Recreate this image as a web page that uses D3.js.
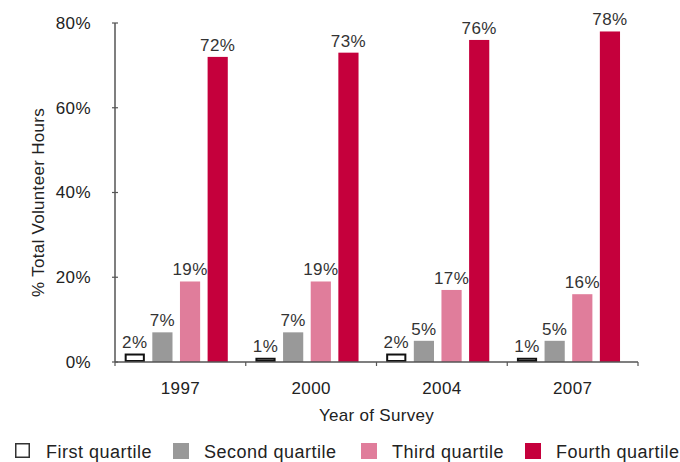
<!DOCTYPE html>
<html lang="en">
<head>
  <meta charset="UTF-8">
  <title>Volunteer Hours by Quartile</title>
  <script src="https://d3js.org/d3.v7.min.js"></script>
  <style>
    body {
      margin: 0;
      padding: 0;
      background: #fff;
      font-family: "Liberation Sans", Arial, sans-serif;
    }
    svg { display: block; }
    .tick text, .label, .legend text, .axis-title {
      font-family: "Liberation Sans", Arial, sans-serif;
      fill: #222;
    }
    .bar-label { font-size: 17px; fill: #333; text-anchor: middle; letter-spacing: 0.4px; }
  </style>
</head>
<body>
  <script>
    // data
    const years = ["1997", "2000", "2004", "2007"];
    const quartiles = ["First quartile", "Second quartile", "Third quartile", "Fourth quartile"];
    const firstQ  = [2, 1, 2, 1];
    const secondQ = [7, 7, 5, 5];
    const thirdQ  = [19, 19, 17, 16];
    const fourthQ = [72, 73, 76, 78];
    const yTicks = [0, 20, 40, 60, 80];

    const fills = ["#ffffff", "#999999", "#e07d9b", "#c5003c"];
    const strokes = ["#111111", "none", "none", "none"];

    const width = 680, height = 462;
    const margin = { top: 23, right: 42, bottom: 100, left: 115 };
    const plotW = width - margin.left - margin.right;
    const plotH = height - margin.top - margin.bottom;

    const series = [firstQ, secondQ, thirdQ, fourthQ];
    const rows = years.map((yr, i) => ({
      year: yr,
      values: quartiles.map((q, j) => ({ key: q, idx: j, value: series[j][i] }))
    }));

    const svg = d3.select("body").append("svg")
      .attr("width", width)
      .attr("height", height);

    const g = svg.append("g")
      .attr("transform", `translate(${margin.left},${margin.top})`);

    const x0 = d3.scaleBand().domain(years).range([0, plotW]).padding(0);
    const x1 = d3.scaleBand().domain(quartiles)
      .range([0, x0.bandwidth()])
      .paddingInner(0.27)
      .paddingOuter(0.5)
      .align(0.35);
    const y = d3.scaleLinear().domain([0, 80]).range([plotH, 0]);

    // bars
    const groups = g.selectAll("g.year")
      .data(rows)
      .join("g")
      .attr("class", "year")
      .attr("transform", d => `translate(${x0(d.year)},0)`);

    const sw = 2;
    groups.selectAll("rect")
      .data(d => d.values)
      .join("rect")
      .attr("x", d => x1(d.key) + (d.idx === 0 ? sw / 2 : 0))
      .attr("y", d => y(d.value) + (d.idx === 0 ? sw / 2 : 0))
      .attr("width", d => x1.bandwidth() - (d.idx === 0 ? sw : 0))
      .attr("height", d => plotH - y(d.value) - (d.idx === 0 ? sw : 0))
      .attr("fill", d => fills[d.idx])
      .attr("stroke", d => strokes[d.idx])
      .attr("stroke-width", sw);

    groups.selectAll("text")
      .data(d => d.values)
      .join("text")
      .attr("class", "bar-label")
      .attr("x", d => x1(d.key) + x1.bandwidth() / 2)
      .attr("y", d => y(d.value) - 6)
      .text(d => d.value + "%");

    // y axis
    const yAxis = g.append("g")
      .call(d3.axisLeft(y).tickValues(yTicks).tickFormat(d => d + "%").tickSize(0).tickPadding(24));
    yAxis.select(".domain").remove();
    yAxis.selectAll(".tick text").attr("font-size", 17).attr("letter-spacing", 0.4);
    g.append("line")
      .attr("x1", 0).attr("x2", 0)
      .attr("y1", y(80)).attr("y2", y(0))
      .attr("stroke", "#555").attr("stroke-width", 1.5);
    g.selectAll("line.ytick")
      .data(yTicks)
      .join("line")
      .attr("class", "ytick")
      .attr("x1", -3).attr("x2", 3)
      .attr("y1", d => y(d)).attr("y2", d => y(d))
      .attr("stroke", "#555").attr("stroke-width", 1.2);

    // x axis
    const xAxis = g.append("g")
      .attr("transform", `translate(0,${plotH})`)
      .call(d3.axisBottom(x0).tickSize(0).tickPadding(20));
    xAxis.select(".domain").remove();
    xAxis.selectAll(".tick text").attr("font-size", 17).attr("letter-spacing", 0.4);
    g.append("line")
      .attr("x1", 0).attr("x2", plotW)
      .attr("y1", plotH).attr("y2", plotH)
      .attr("stroke", "#555").attr("stroke-width", 1.5);
    const bounds = years.map(d => x0(d)).concat([plotW]);
    g.selectAll("line.xtick")
      .data(bounds)
      .join("line")
      .attr("class", "xtick")
      .attr("x1", d => d).attr("x2", d => d)
      .attr("y1", plotH).attr("y2", plotH + 4)
      .attr("stroke", "#555").attr("stroke-width", 1.2);

    // axis titles
    svg.append("text")
      .attr("class", "axis-title")
      .attr("transform", `translate(44,${margin.top + plotH / 2 + 10}) rotate(-90)`)
      .attr("text-anchor", "middle")
      .attr("font-size", 17)
      .attr("letter-spacing", 0.3)
      .text("% Total Volunteer Hours");

    svg.append("text")
      .attr("class", "axis-title")
      .attr("x", margin.left + plotW / 2)
      .attr("y", 421)
      .attr("text-anchor", "middle")
      .attr("font-size", 17)
      .attr("letter-spacing", 0.3)
      .text("Year of Survey");

    // legend
    const legendX = [15, 173, 361, 525];
    const legend = svg.append("g").attr("class", "legend");
    const items = legend.selectAll("g")
      .data(quartiles)
      .join("g")
      .attr("transform", (d, i) => `translate(${legendX[i]},443)`);
    items.append("rect")
      .attr("x", (d, i) => i === 0 ? 0.75 : 0)
      .attr("y", (d, i) => i === 0 ? 0.75 : 0)
      .attr("width", (d, i) => i === 0 ? 13.5 : 16)
      .attr("height", (d, i) => i === 0 ? 13.5 : 16)
      .attr("fill", (d, i) => fills[i])
      .attr("stroke", (d, i) => i === 0 ? "#333" : "none")
      .attr("stroke-width", 1.5);
    items.append("text")
      .attr("x", 31)
      .attr("y", 15)
      .attr("font-size", 18)
      .attr("letter-spacing", 0.5)
      .text(d => d);
  </script>
</body>
</html>
